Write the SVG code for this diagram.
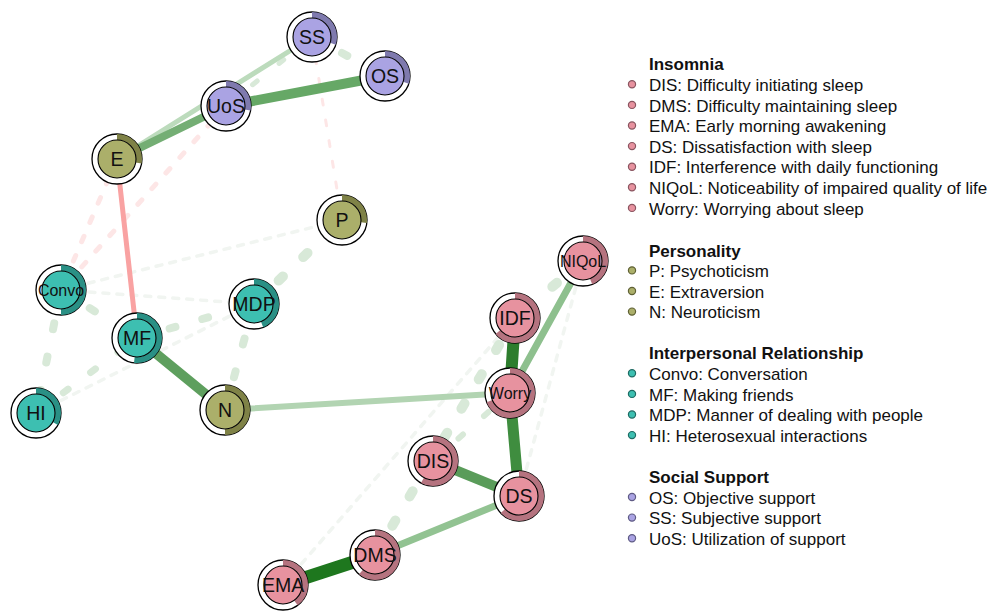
<svg xmlns="http://www.w3.org/2000/svg" width="997" height="614" viewBox="0 0 997 614">
<style>
.ring{fill:#fff;stroke:#000;stroke-width:1.3}
.core{stroke:#000;stroke-width:1.1}
.arc{fill:none;stroke-width:6}
.lbl{font-family:"Liberation Sans",Arial,sans-serif;font-size:19.5px;text-anchor:middle;fill:#111}
.sm{font-size:16px}
.ins .core{fill:#E7929F}.ins .arc{stroke:#B5737F}
.per .core{fill:#ABAF6A}.per .arc{stroke:#7F8247}
.ipr .core{fill:#3DBFB1}.ipr .arc{stroke:#2A9085}
.soc .core{fill:#AAA3E3}.soc .arc{stroke:#7F7AAE}
.e{fill:none;stroke-linecap:round}
.faint{stroke:#f1f5f1;stroke-width:3.5;stroke-dasharray:6 8}
.neg{stroke:#fde6e6;stroke-dasharray:6 15}
.weak{stroke:#d8e9d8;stroke-dasharray:6 28}
.lg{font-family:"Liberation Sans",Arial,sans-serif;font-size:17px;fill:#111}
.lh{font-weight:bold}
.dot{stroke-width:1.2}
.d-ins{fill:#E7929F;stroke:#8a5560}.d-per{fill:#ABAF6A;stroke:#5f6135}.d-ipr{fill:#3DBFB1;stroke:#1f6b63}.d-soc{fill:#AAA3E3;stroke:#5f5b85}
</style>
<g id="edges">
<path class="e faint" d="M61,290 L342,220"/>
<path class="e faint" d="M61,290 L254,304"/>
<path class="e faint" d="M36,413 L254,304"/>
<path class="e faint" d="M283,585 L515,318"/>
<path class="e faint" d="M519,496 L583,261"/>
<path class="e neg" stroke-width="5" d="M117,159 L61,290"/>
<path class="e neg" stroke-width="5" d="M226,106 L61,290"/>
<path class="e neg" stroke-width="3" d="M312,37 L342,220"/>
<path class="e weak" stroke-width="8" d="M312,37 L385,76"/>
<path class="e weak" stroke-width="5" stroke-dasharray="6 10" d="M226,106 L312,37"/>
<path class="e weak" stroke-width="10" d="M254,304 L342,220"/>
<path class="e weak" stroke-width="8" d="M225,410 L254,304"/>
<path class="e weak" stroke-width="8" stroke-dasharray="8 22" d="M137,338 L254,304"/>
<path class="e weak" stroke-width="7" stroke-dasharray="5 21" d="M36,413 L137,338"/>
<path class="e weak" stroke-width="8" stroke-dasharray="10 34" d="M61,290 L36,413"/>
<path class="e weak" stroke-width="8" stroke-dasharray="10 20" d="M61,290 L137,338"/>
<path class="e weak" stroke-width="10" stroke-dasharray="5 32" d="M375,555 L515,318"/>
<path class="e weak" stroke-width="6" stroke-dasharray="5 14" d="M433,461 L510,393"/>
<path class="e weak" stroke-width="10" d="M583,261 L515,318"/>
<path class="e" stroke="#BCDBBC" stroke-width="5" d="M117,159 L312,37"/>
<path class="e" stroke="#74AE74" stroke-width="8" d="M117,159 L226,106"/>
<path class="e" stroke="#66A866" stroke-width="10" d="M226,106 L385,76"/>
<path class="e" stroke="#F9A2A2" stroke-width="5" d="M117,159 L137,338"/>
<path class="e" stroke="#5E9F5E" stroke-width="10" d="M137,338 L225,410"/>
<path class="e" stroke="#B2D4B2" stroke-width="6" d="M225,410 L510,393"/>
<path class="e" stroke="#8EC08E" stroke-width="7" d="M583,261 L510,393"/>
<path class="e" stroke="#2D7D2D" stroke-width="12" d="M515,318 L510,393"/>
<path class="e" stroke="#3F8D3F" stroke-width="11" d="M510,393 L519,496"/>
<path class="e" stroke="#5A9C5A" stroke-width="10" d="M433,461 L519,496"/>
<path class="e" stroke="#92C392" stroke-width="7" d="M519,496 L375,555"/>
<path class="e" stroke="#1E771E" stroke-width="13" d="M375,555 L283,585"/>
</g>
<g id="node-SS" class="soc" transform="translate(312,37)"><circle class="ring" r="25"/><circle class="arc" r="22" pathLength="100" stroke-dasharray="30 100" transform="rotate(-90)"/><circle class="core" r="19"/><text class="lbl" y="7">SS</text></g>
<g id="node-OS" class="soc" transform="translate(385,76)"><circle class="ring" r="25"/><circle class="arc" r="22" pathLength="100" stroke-dasharray="30 100" transform="rotate(-90)"/><circle class="core" r="19"/><text class="lbl" y="7">OS</text></g>
<g id="node-UoS" class="soc" transform="translate(226,106)"><circle class="ring" r="25"/><circle class="arc" r="22" pathLength="100" stroke-dasharray="28 100" transform="rotate(-90)"/><circle class="core" r="19"/><text class="lbl" y="7">UoS</text></g>
<g id="node-E" class="per" transform="translate(117,159)"><circle class="ring" r="25"/><circle class="arc" r="22" pathLength="100" stroke-dasharray="28 100" transform="rotate(-90)"/><circle class="core" r="19"/><text class="lbl" y="7">E</text></g>
<g id="node-P" class="per" transform="translate(342,220)"><circle class="ring" r="25"/><circle class="arc" r="22" pathLength="100" stroke-dasharray="27 100" transform="rotate(-90)"/><circle class="core" r="19"/><text class="lbl" y="7">P</text></g>
<g id="node-N" class="per" transform="translate(225,410)"><circle class="ring" r="25"/><circle class="arc" r="22" pathLength="100" stroke-dasharray="50 100" transform="rotate(-90)"/><circle class="core" r="19"/><text class="lbl" y="7">N</text></g>
<g id="node-Convo" class="ipr" transform="translate(61,290)"><circle class="ring" r="25"/><circle class="arc" r="22" pathLength="100" stroke-dasharray="50 100" transform="rotate(-90)"/><circle class="core" r="19"/><text class="lbl sm" y="6">Convo</text></g>
<g id="node-MDP" class="ipr" transform="translate(254,304)"><circle class="ring" r="25"/><circle class="arc" r="22" pathLength="100" stroke-dasharray="44 100" transform="rotate(-90)"/><circle class="core" r="19"/><text class="lbl" y="7">MDP</text></g>
<g id="node-MF" class="ipr" transform="translate(137,338)"><circle class="ring" r="25"/><circle class="arc" r="22" pathLength="100" stroke-dasharray="52 100" transform="rotate(-90)"/><circle class="core" r="19"/><text class="lbl" y="7">MF</text></g>
<g id="node-HI" class="ipr" transform="translate(36,413)"><circle class="ring" r="25"/><circle class="arc" r="22" pathLength="100" stroke-dasharray="33 100" transform="rotate(-90)"/><circle class="core" r="19"/><text class="lbl" y="7">HI</text></g>
<g id="node-NIQoL" class="ins" transform="translate(583,261)"><circle class="ring" r="25"/><circle class="arc" r="22" pathLength="100" stroke-dasharray="44 100" transform="rotate(-90)"/><circle class="core" r="19"/><text class="lbl sm" y="6">NIQoL</text></g>
<g id="node-IDF" class="ins" transform="translate(515,318)"><circle class="ring" r="25"/><circle class="arc" r="22" pathLength="100" stroke-dasharray="64 100" transform="rotate(-90)"/><circle class="core" r="19"/><text class="lbl" y="7">IDF</text></g>
<g id="node-Worry" class="ins" transform="translate(510,393)"><circle class="ring" r="25"/><circle class="arc" r="22" pathLength="100" stroke-dasharray="69 100" transform="rotate(-90)"/><circle class="core" r="19"/><text class="lbl sm" y="6">Worry</text></g>
<g id="node-DIS" class="ins" transform="translate(433,461)"><circle class="ring" r="25"/><circle class="arc" r="22" pathLength="100" stroke-dasharray="58 100" transform="rotate(-90)"/><circle class="core" r="19"/><text class="lbl" y="7">DIS</text></g>
<g id="node-DS" class="ins" transform="translate(519,496)"><circle class="ring" r="25"/><circle class="arc" r="22" pathLength="100" stroke-dasharray="63 100" transform="rotate(-90)"/><circle class="core" r="19"/><text class="lbl" y="7">DS</text></g>
<g id="node-DMS" class="ins" transform="translate(375,555)"><circle class="ring" r="25"/><circle class="arc" r="22" pathLength="100" stroke-dasharray="61 100" transform="rotate(-90)"/><circle class="core" r="19"/><text class="lbl" y="7">DMS</text></g>
<g id="node-EMA" class="ins" transform="translate(283,585)"><circle class="ring" r="25"/><circle class="arc" r="22" pathLength="100" stroke-dasharray="40 100" transform="rotate(-90)"/><circle class="core" r="19"/><text class="lbl" y="7">EMA</text></g>
<g id="legend">
<text class="lg lh" x="649" y="70">Insomnia</text>
<circle class="dot d-ins" cx="632" cy="84.3" r="3.6"/><text class="lg" x="649" y="91">DIS: Difficulty initiating sleep</text>
<circle class="dot d-ins" cx="632" cy="104.9" r="3.6"/><text class="lg" x="649" y="111.6">DMS: Difficulty maintaining sleep</text>
<circle class="dot d-ins" cx="632" cy="125.5" r="3.6"/><text class="lg" x="649" y="132.2">EMA: Early morning awakening</text>
<circle class="dot d-ins" cx="632" cy="146.1" r="3.6"/><text class="lg" x="649" y="152.8">DS: Dissatisfaction with sleep</text>
<circle class="dot d-ins" cx="632" cy="166.7" r="3.6"/><text class="lg" x="649" y="173.4">IDF: Interference with daily functioning</text>
<circle class="dot d-ins" cx="632" cy="187.3" r="3.6"/><text class="lg" x="649" y="194">NIQoL: Noticeability of impaired quality of life</text>
<circle class="dot d-ins" cx="632" cy="207.9" r="3.6"/><text class="lg" x="649" y="214.6">Worry: Worrying about sleep</text>
<text class="lg lh" x="649" y="256.5">Personality</text>
<circle class="dot d-per" cx="632" cy="270.4" r="3.6"/><text class="lg" x="649" y="277">P: Psychoticism</text>
<circle class="dot d-per" cx="632" cy="291" r="3.6"/><text class="lg" x="649" y="297.6">E: Extraversion</text>
<circle class="dot d-per" cx="632" cy="311.6" r="3.6"/><text class="lg" x="649" y="318.2">N: Neuroticism</text>
<text class="lg lh" x="649" y="359.3">Interpersonal Relationship</text>
<circle class="dot d-ipr" cx="632" cy="373.3" r="3.6"/><text class="lg" x="649" y="380">Convo: Conversation</text>
<circle class="dot d-ipr" cx="632" cy="393.9" r="3.6"/><text class="lg" x="649" y="400.6">MF: Making friends</text>
<circle class="dot d-ipr" cx="632" cy="414.5" r="3.6"/><text class="lg" x="649" y="421.2">MDP: Manner of dealing with people</text>
<circle class="dot d-ipr" cx="632" cy="435.1" r="3.6"/><text class="lg" x="649" y="441.8">HI: Heterosexual interactions</text>
<text class="lg lh" x="649" y="483">Social Support</text>
<circle class="dot d-soc" cx="632" cy="497" r="3.6"/><text class="lg" x="649" y="503.6">OS: Objective support</text>
<circle class="dot d-soc" cx="632" cy="517.6" r="3.6"/><text class="lg" x="649" y="524.2">SS: Subjective support</text>
<circle class="dot d-soc" cx="632" cy="538.2" r="3.6"/><text class="lg" x="649" y="544.8">UoS: Utilization of support</text>
</g>
</svg>
